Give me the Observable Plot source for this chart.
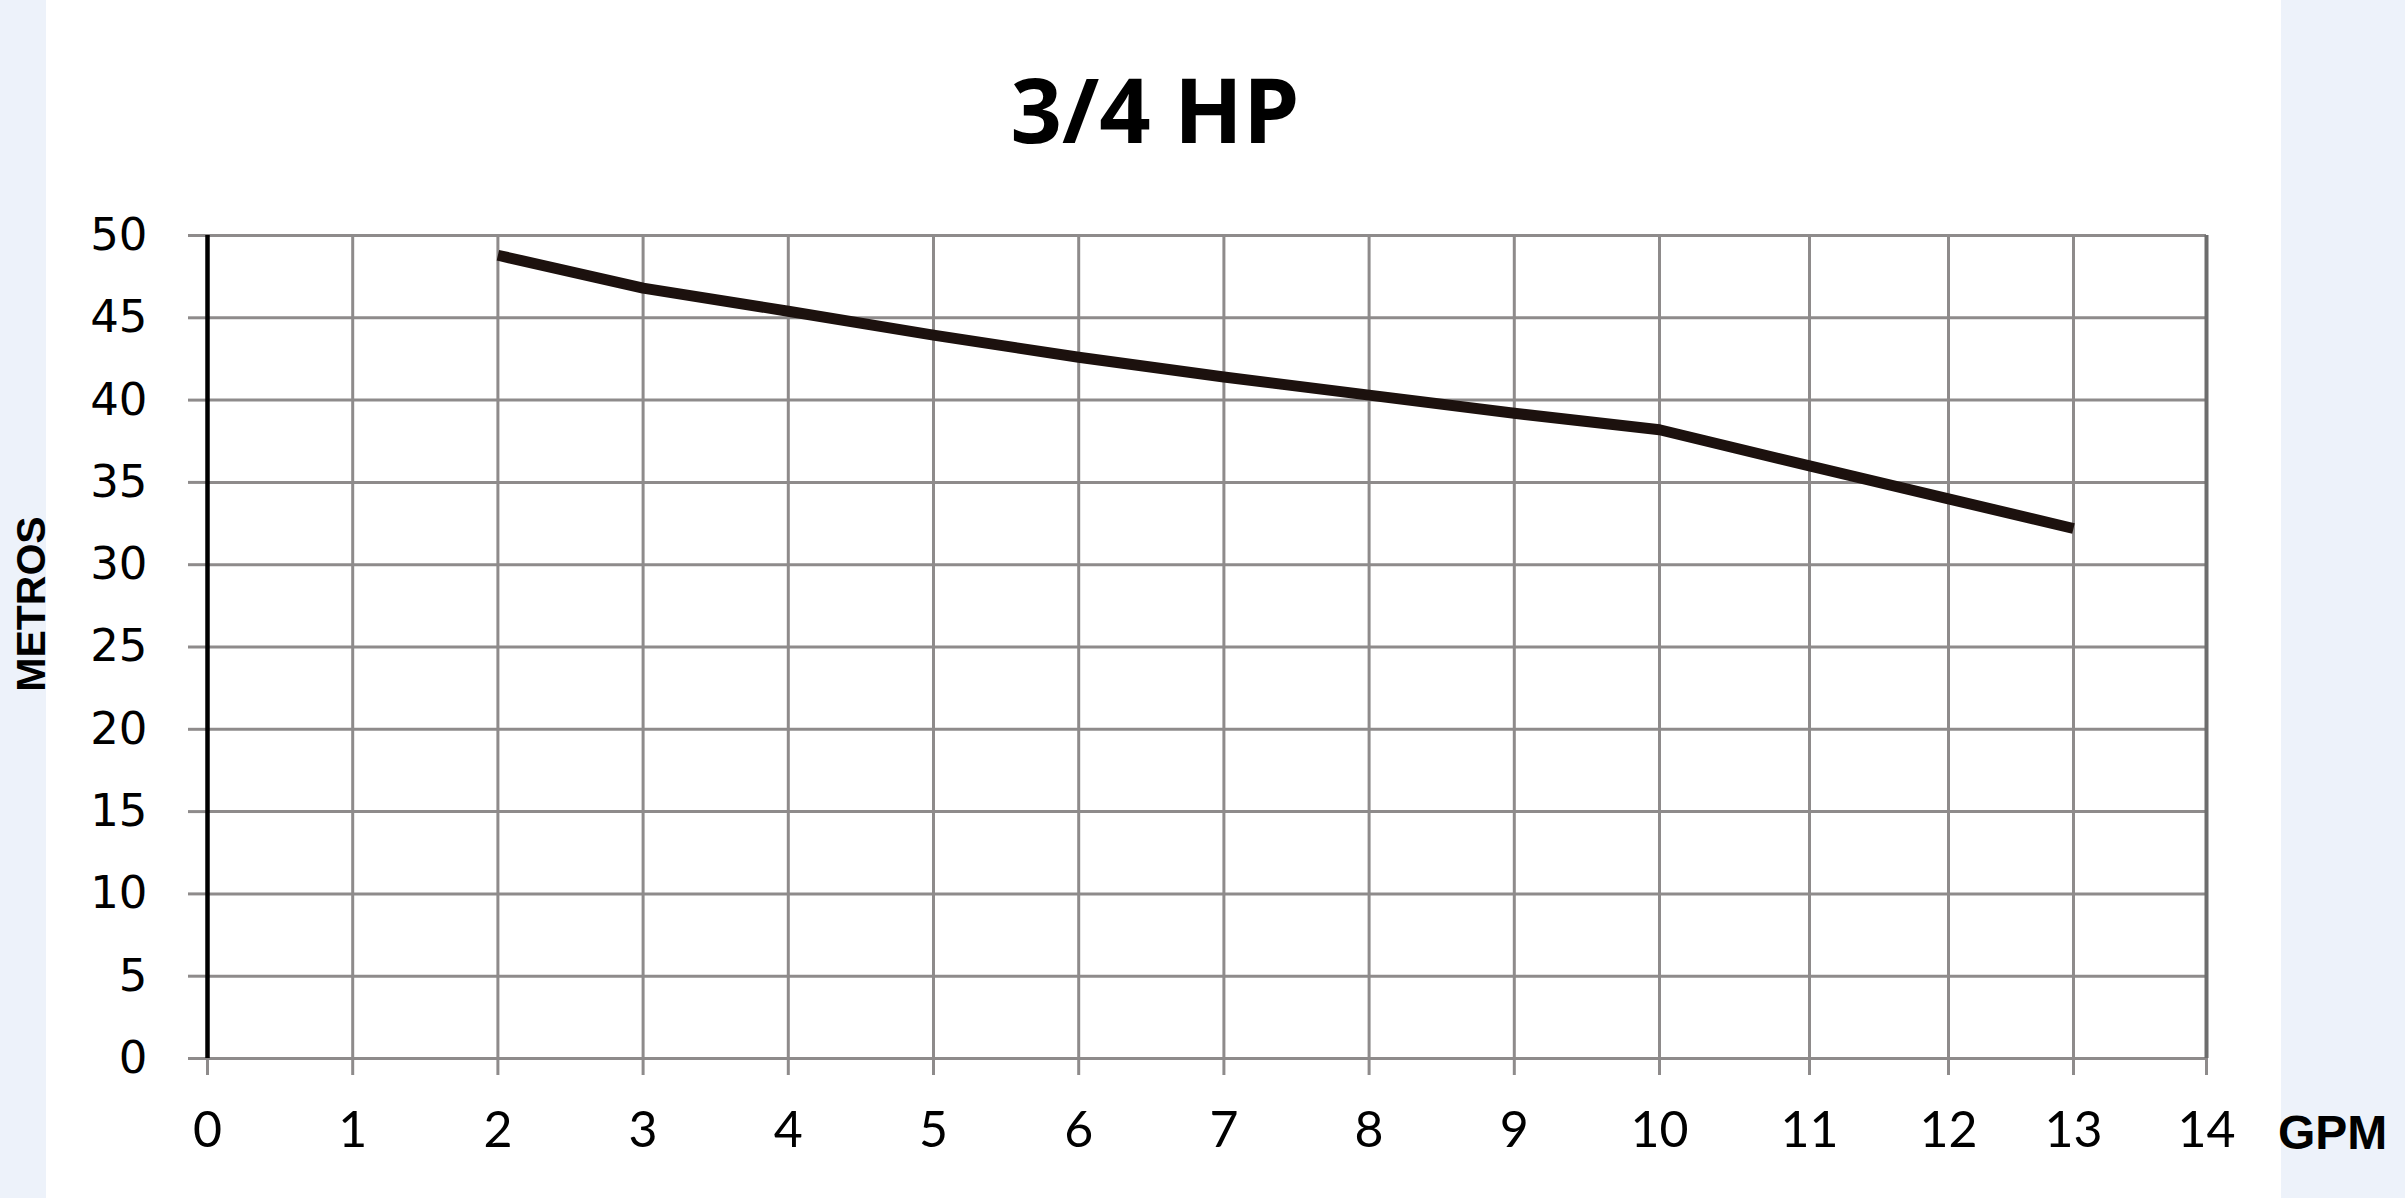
<!DOCTYPE html>
<html>
<head>
<meta charset="utf-8">
<script src="https://cdn.jsdelivr.net/npm/d3@7"></script>
<script src="https://cdn.jsdelivr.net/npm/@observablehq/plot@0.6"></script>
<style>
  html, body { margin: 0; padding: 0; }
  body { width: 2405px; height: 1198px; overflow: hidden; }
  #wrap {
    position: relative; width: 2405px; height: 1198px;
    background: linear-gradient(to right, #edf2fa 0 46px, #ffffff 46px 2281px, #edf2fa 2281px);
  }
  #chart { position: absolute; left: 0; top: 0; }
  .title {
    position: absolute; left: 1155px; top: 63px; transform: translateX(-50%);
    font-family: "Open Sans", sans-serif; font-weight: 700; font-size: 90px; line-height: 90px;
    color: #000; white-space: nowrap;
  }
  .ylab {
    position: absolute; left: 31px; top: 604px;
    transform: translate(-50%, -50%) rotate(-90deg);
    font-family: "Liberation Sans", Arial, sans-serif; font-weight: 700; font-size: 41px; line-height: 41px;
    color: #000; white-space: nowrap;
  }
  .xlab {
    position: absolute; left: 2278px; top: 1109px;
    font-family: "Liberation Sans", Arial, sans-serif; font-weight: 700; font-size: 48px; line-height: 48px;
    color: #000; white-space: nowrap;
  }
  g[aria-label="y-axis tick label"] { font-family: "DejaVu Sans", sans-serif; font-size: 45px; }
  g[aria-label="x-axis tick label"] { font-family: "Lato", "Open Sans", sans-serif; font-size: 50px; }
</style>
</head>
<body>
<div id="wrap">
  <div id="chart"></div>
  <div class="title">3/4 HP</div>
  <div class="ylab">METROS</div>
  <div class="xlab">GPM</div>
</div>
<script>
// Data
const gpm    = [2, 3, 4, 5, 6, 7, 8, 9, 10, 11, 12, 13];
const metros = [48.8, 46.8, 45.4, 43.95, 42.6, 41.4, 40.3, 39.2, 38.2, 36.0, 34.0, 32.2];
const xTicks = [0, 1, 2, 3, 4, 5, 6, 7, 8, 9, 10, 11, 12, 13, 14];
const yTicks = [0, 5, 10, 15, 20, 25, 30, 35, 40, 45, 50];

const data = gpm.map((g, i) => ({gpm: g, metros: metros[i]}));
const grid = "#8e8b8b";

const chart = Plot.plot({
  width: 2405,
  height: 1198,
  marginTop: 235,
  marginBottom: 140,
  marginLeft: 207,
  marginRight: 199,
  style: {background: "transparent", overflow: "visible"},
  x: {type: "linear", domain: [0, 10, 11, 12, 13, 14], range: [207, 1659, 1809, 1948, 2073, 2206]},
  y: {type: "linear", domain: [0, 50]},
  marks: [
    Plot.ruleY(yTicks, {stroke: grid, strokeWidth: 3}),
    Plot.ruleX(xTicks.filter(d => d < 14), {stroke: grid, strokeWidth: 3}),
    Plot.axisY({ticks: yTicks, tickSize: 19, tickPadding: 41, stroke: grid, strokeWidth: 3, fill: "#000",
                fontSize: 45, fontFamily: "DejaVu Sans", label: null, tickFormat: d => String(d)}),
    Plot.axisX({ticks: xTicks, tickSize: 17, tickPadding: 36, stroke: grid, strokeWidth: 3, fill: "#000",
                fontSize: 50, fontFamily: "Lato", label: null, tickFormat: d => String(d)}),
    Plot.ruleX([14], {stroke: "#6d6d6d", strokeWidth: 4}),
    Plot.ruleX([0], {stroke: "#000", strokeWidth: 4.5}),
    Plot.line(data, {x: "gpm", y: "metros", stroke: "#1c110e", strokeWidth: 11,
                     strokeLinecap: "butt", strokeLinejoin: "round"})
  ]
});
document.getElementById("chart").appendChild(chart);
</script>
</body>
</html>
